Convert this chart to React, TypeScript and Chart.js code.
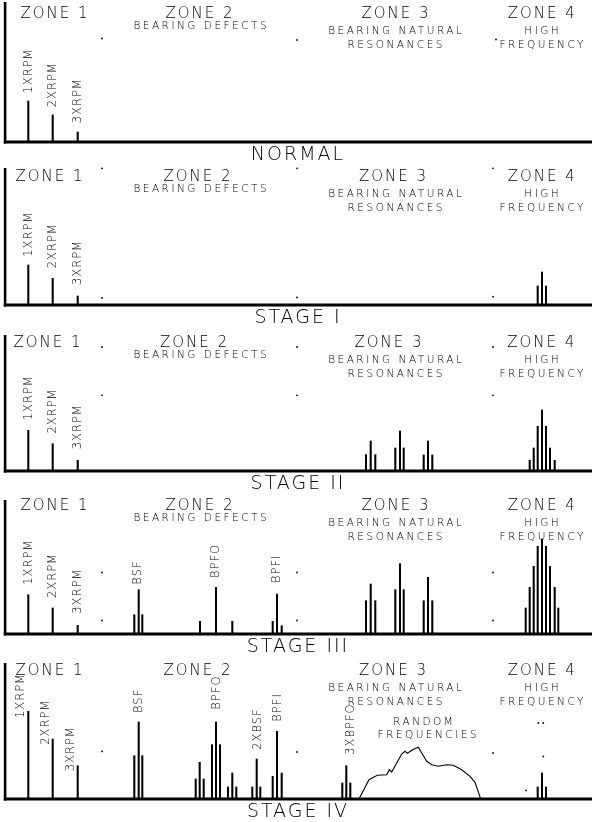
import React, { useEffect, useRef } from "react";
import { Chart, registerables } from "chart.js";
Chart.register(...registerables);

type Pt = { x: number; y: number };
type Label = [string, number, number];

// ---- spectrum data: frequency positions (x) and amplitudes (y) ----
const RPM_FREQ = [28.3, 52.7, 77.7];
const RPM_NORMAL = [41, 27, 10];
const RPM_STAGE1 = [40, 26.7, 9];
const RPM_STAGE2 = [40.7, 27.3, 10.7];
const RPM_STAGE3 = [39.3, 26, 8.7];
const RPM_STAGE4 = [87.7, 60, 33.3];

const HF_FREQ_3 = [537.7, 542, 546];
const HF_STAGE1 = [19, 33, 19];
const HF_STAGE4 = [12, 26, 12];
const HF_FREQ_7 = [529.7, 533.7, 537.7, 542, 546, 550, 554.7];
const HF_STAGE2 = [10.7, 23, 44.7, 61, 44.7, 23, 10.7];
const HF_FREQ_9 = [525.7, 529.7, 533.7, 537.7, 542, 546, 550, 554.7, 558.3];
const HF_STAGE3 = [26, 46.7, 67.7, 87.7, 95, 87.7, 67.7, 46.7, 26];

const RES_FREQ = [366, 370.7, 375.3, 395.3, 400, 403.7, 423.7, 428, 432.3];
const RES_STAGE2 = [16.4, 30, 16.4, 23, 40, 23, 16, 30, 16];
const RES_STAGE3 = [33.3, 50, 33.3, 44.3, 70.3, 44.3, 33.3, 56.7, 33.3];

const DEF_FREQ_3 = [134.3, 138.7, 142.3, 200, 216, 232.3, 272.7, 277, 281.7];
const DEF_STAGE3 = [19.3, 44.3, 19.3, 12.7, 46.7, 12.7, 12.7, 40, 8.3];
const DEF_FREQ_4 = [134.3, 138.7, 142.3, 195.7, 199.7, 203.7, 212, 216, 220, 228, 232.3, 236.3, 252.3, 256.7, 260.3, 272.7, 277, 281.7];
const DEF_STAGE4 = [43.3, 77, 43.3, 20, 36.7, 20, 54.3, 77, 54.3, 12, 26, 12, 12, 40, 12, 22.7, 67.7, 26];
const BPFO3_FREQ = [342.3, 346.3, 350.3];
const BPFO3_STAGE4 = [16, 33.3, 16];

const RANDOM_FREQ = [359, 369, 377.3, 386.7, 389.3, 391.7, 396.7, 401.7, 405, 407.3, 412.7, 418.3, 421.7, 426.7, 431.7, 438.3, 446.7, 453.3, 461.7, 470, 475, 480.7];
const RANDOM_AMP = [0, 19.3, 23.7, 24.3, 29.3, 27, 36, 45, 47.7, 45.7, 49.3, 51.7, 46, 37.7, 34.3, 32.7, 34.3, 33.7, 29.3, 22.7, 16.7, 0];

// grid remnant dots [freq, amp]
const DOTS_NORMAL: [number, number][] = [[102, 103.5], [297, 102], [496, 102.5]];
const DOTS_STAGE1: [number, number][] = [[102, 136.7], [297, 136.7], [493, 136.7], [102, 7], [297, 7.5], [493, 8.3]];
const DOTS_STAGE2: [number, number][] = [[102, 124], [297, 124], [493, 124], [102, 75.7], [297, 75.7], [493, 75.7]];
const DOTS_STAGE3: [number, number][] = [[102, 61.6], [297, 61.6], [493, 61.6], [102, 13.6], [297, 13.6], [493, 13.6]];
const DOTS_STAGE4: [number, number][] = [[102, 47.6], [297, 47], [493, 46], [526, 8.6], [538.3, 76], [543.3, 76], [543.3, 42.6]];

// peak labels [text, freq, amp where the text starts]
const LABELS_NORMAL: Label[] = [["1XRPM", 29.2, 48.5], ["2XRPM", 52.8, 34.7], ["3XRPM", 78, 18.7]];
const LABELS_STAGE1: Label[] = [["1XRPM", 28.7, 48.3], ["2XRPM", 52.8, 36.7], ["3XRPM", 77.7, 20]];
const LABELS_STAGE2: Label[] = [["1XRPM", 29.2, 50.7], ["2XRPM", 52.8, 37.4], ["3XRPM", 78, 21.7]];
const LABELS_STAGE3: Label[] = [["1XRPM", 29.2, 49.3], ["2XRPM", 52.8, 36], ["3XRPM", 78, 20.3], ["BSF", 138, 49.3], ["BPFO", 216, 56], ["BPFI", 277.5, 51]];
const LABELS_STAGE4: Label[] = [["1XRPM", 21, 81], ["2XRPM", 46, 54.3], ["3XRPM", 71, 27.7], ["BSF", 138.7, 86], ["BPFO", 216.7, 89.3], ["2XBSF", 257.7, 49.3], ["BPFI", 278, 77.3], ["3XBPFO", 350.8, 44.3]];

const STAGE_TITLES = ["NORMAL", "STAGE I", "STAGE II", "STAGE III", "STAGE IV"];
const ZONE_NAMES = ["ZONE 1", "ZONE 2", "ZONE 3", "ZONE 4"];
const ZONE_X = [
  [54, 199, 395, 541.3],
  [49, 197, 392.5, 541.3],
  [47, 193.5, 388, 540.8],
  [54, 199, 395, 541.3],
  [49, 197, 392.5, 541.3],
];
const ZONE2_SUB = ["BEARING DEFECTS"];
const ZONE3_SUB = ["BEARING NATURAL", "RESONANCES"];
const ZONE4_SUB = ["HIGH", "FREQUENCY"];
const RANDOM_TEXT = ["RANDOM", "FREQUENCIES"];

const BASELINES = [142, 305, 471, 634, 799];
const AXIS_TOP = [140, 137, 136, 134, 136];

const pts = (xs: number[], ys: number[]): Pt[] => xs.map((x, i) => ({ x, y: ys[i] }));
const dots = (d: [number, number][]): Pt[] => d.map(([x, y]) => ({ x, y }));

interface PanelDef {
  bars: Pt[];
  curve: Pt[];
  dots: Pt[];
  labels: Label[];
  zone2Sub: boolean;
  random: boolean;
}

const PANELS: PanelDef[] = [
  { bars: pts(RPM_FREQ, RPM_NORMAL), curve: [], dots: dots(DOTS_NORMAL), labels: LABELS_NORMAL, zone2Sub: true, random: false },
  { bars: [...pts(RPM_FREQ, RPM_STAGE1), ...pts(HF_FREQ_3, HF_STAGE1)], curve: [], dots: dots(DOTS_STAGE1), labels: LABELS_STAGE1, zone2Sub: true, random: false },
  { bars: [...pts(RPM_FREQ, RPM_STAGE2), ...pts(RES_FREQ, RES_STAGE2), ...pts(HF_FREQ_7, HF_STAGE2)], curve: [], dots: dots(DOTS_STAGE2), labels: LABELS_STAGE2, zone2Sub: true, random: false },
  { bars: [...pts(RPM_FREQ, RPM_STAGE3), ...pts(DEF_FREQ_3, DEF_STAGE3), ...pts(RES_FREQ, RES_STAGE3), ...pts(HF_FREQ_9, HF_STAGE3)], curve: [], dots: dots(DOTS_STAGE3), labels: LABELS_STAGE3, zone2Sub: true, random: false },
  { bars: [...pts(RPM_FREQ, RPM_STAGE4), ...pts(DEF_FREQ_4, DEF_STAGE4), ...pts(BPFO3_FREQ, BPFO3_STAGE4), ...pts(HF_FREQ_3, HF_STAGE4)], curve: pts(RANDOM_FREQ, RANDOM_AMP), dots: dots(DOTS_STAGE4), labels: LABELS_STAGE4, zone2Sub: false, random: true },
];

const FONT = '"DejaVu Sans", sans-serif';
const TEXT_WEIGHT = 200;
const Y_MAX = 140;
const CANVAS_H = 165;
const SUB_SIZE = 10.5;
const SUB_LS = 2.5;

function makePlugin(idx: number) {
  const p = PANELS[idx];
  return {
    id: "vibrationPanel",
    afterDatasetsDraw(chart: any) {
      const { ctx, chartArea, scales } = chart;
      const xs = scales.x;
      const ys = scales.y;
      const base = ys.getPixelForValue(0);
      ctx.save();
      ctx.fillStyle = "#000";
      // axes
      const top = ys.getPixelForValue(AXIS_TOP[idx]);
      ctx.fillRect(chartArea.left - 1.2, top, 2.6, base - top + 1.5);
      ctx.fillRect(chartArea.left - 1.2, base - 1.5, chart.width, 3);

      ctx.fillStyle = "#000";
      const text = (s: string, x: number, y: number, size: number, ls: number) => {
        ctx.font = `${TEXT_WEIGHT} ${size}px ${FONT}`;
        (ctx as any).letterSpacing = `${ls}px`;
        ctx.textAlign = "center";
        ctx.textBaseline = "middle";
        ctx.fillText(s, x + ls / 2, y);
      };
      const zx = ZONE_X[idx];
      ZONE_NAMES.forEach((z, i) => text(z, xs.getPixelForValue(zx[i]), ys.getPixelForValue(128), 15, 2));
      if (p.zone2Sub) text(ZONE2_SUB[0], xs.getPixelForValue(200), ys.getPixelForValue(115.5), SUB_SIZE, SUB_LS);
      text(ZONE3_SUB[0], xs.getPixelForValue(395), ys.getPixelForValue(111), SUB_SIZE, SUB_LS);
      text(ZONE3_SUB[1], xs.getPixelForValue(395), ys.getPixelForValue(97), SUB_SIZE, SUB_LS);
      text(ZONE4_SUB[0], xs.getPixelForValue(541.5), ys.getPixelForValue(111), SUB_SIZE, SUB_LS);
      text(ZONE4_SUB[1], xs.getPixelForValue(541.5), ys.getPixelForValue(97), SUB_SIZE, SUB_LS);
      if (p.random) {
        text(RANDOM_TEXT[0], xs.getPixelForValue(423), ys.getPixelForValue(76.6), SUB_SIZE, SUB_LS);
        text(RANDOM_TEXT[1], xs.getPixelForValue(427), ys.getPixelForValue(63.3), SUB_SIZE, SUB_LS);
      }
      // rotated peak labels
      ctx.font = `${TEXT_WEIGHT} 11.5px ${FONT}`;
      (ctx as any).letterSpacing = "1px";
      ctx.textAlign = "left";
      ctx.textBaseline = "middle";
      p.labels.forEach(([s, f, a]) => {
        ctx.save();
        ctx.translate(xs.getPixelForValue(f), ys.getPixelForValue(a));
        ctx.rotate(-Math.PI / 2);
        ctx.fillText(s, 0, 0);
        ctx.restore();
      });
      // stage title
      text(STAGE_TITLES[idx], xs.getPixelForValue(297), base + 13, 19, 2);
      ctx.restore();
    },
  };
}

function Panel({ idx }: { idx: number }) {
  const ref = useRef<HTMLCanvasElement>(null);
  useEffect(() => {
    const p = PANELS[idx];
    const chart = new Chart(ref.current as HTMLCanvasElement, {
      type: "bar",
      data: {
        datasets: [
          {
            type: "bar",
            data: p.bars as any,
            backgroundColor: "#000",
            borderWidth: 0,
            barThickness: 1.4,
            grouped: false,
          } as any,
          {
            type: "line",
            data: p.curve as any,
            borderColor: "#000",
            borderWidth: 1.1,
            pointRadius: 0,
            tension: 0,
            fill: false,
          } as any,
          {
            type: "scatter",
            data: p.dots as any,
            pointRadius: 0.9,
            backgroundColor: "#000",
            borderWidth: 0,
          } as any,
        ],
      },
      options: {
        animation: false,
        responsive: false,
        maintainAspectRatio: false,
        events: [],
        layout: { autoPadding: false, padding: { left: 5, right: 0, top: 0, bottom: CANVAS_H - Y_MAX } },
        scales: {
          x: { type: "linear", min: 5, max: 592, display: false, offset: false },
          y: { type: "linear", min: 0, max: Y_MAX, display: false },
        },
        plugins: { legend: { display: false }, tooltip: { enabled: false } },
      } as any,
      plugins: [makePlugin(idx) as any],
    });
    return () => chart.destroy();
  }, [idx]);
  return (
    <canvas
      ref={ref}
      width={592}
      height={CANVAS_H}
      style={{ position: "absolute", left: 0, top: BASELINES[idx] - Y_MAX, width: 592, height: CANVAS_H }}
    />
  );
}

export default function App() {
  return (
    <div style={{ position: "fixed", left: 0, top: 0, width: 592, height: 822, overflow: "hidden", background: "#fff" }}>
      {PANELS.map((_, i) => (
        <Panel key={i} idx={i} />
      ))}
    </div>
  );
}
